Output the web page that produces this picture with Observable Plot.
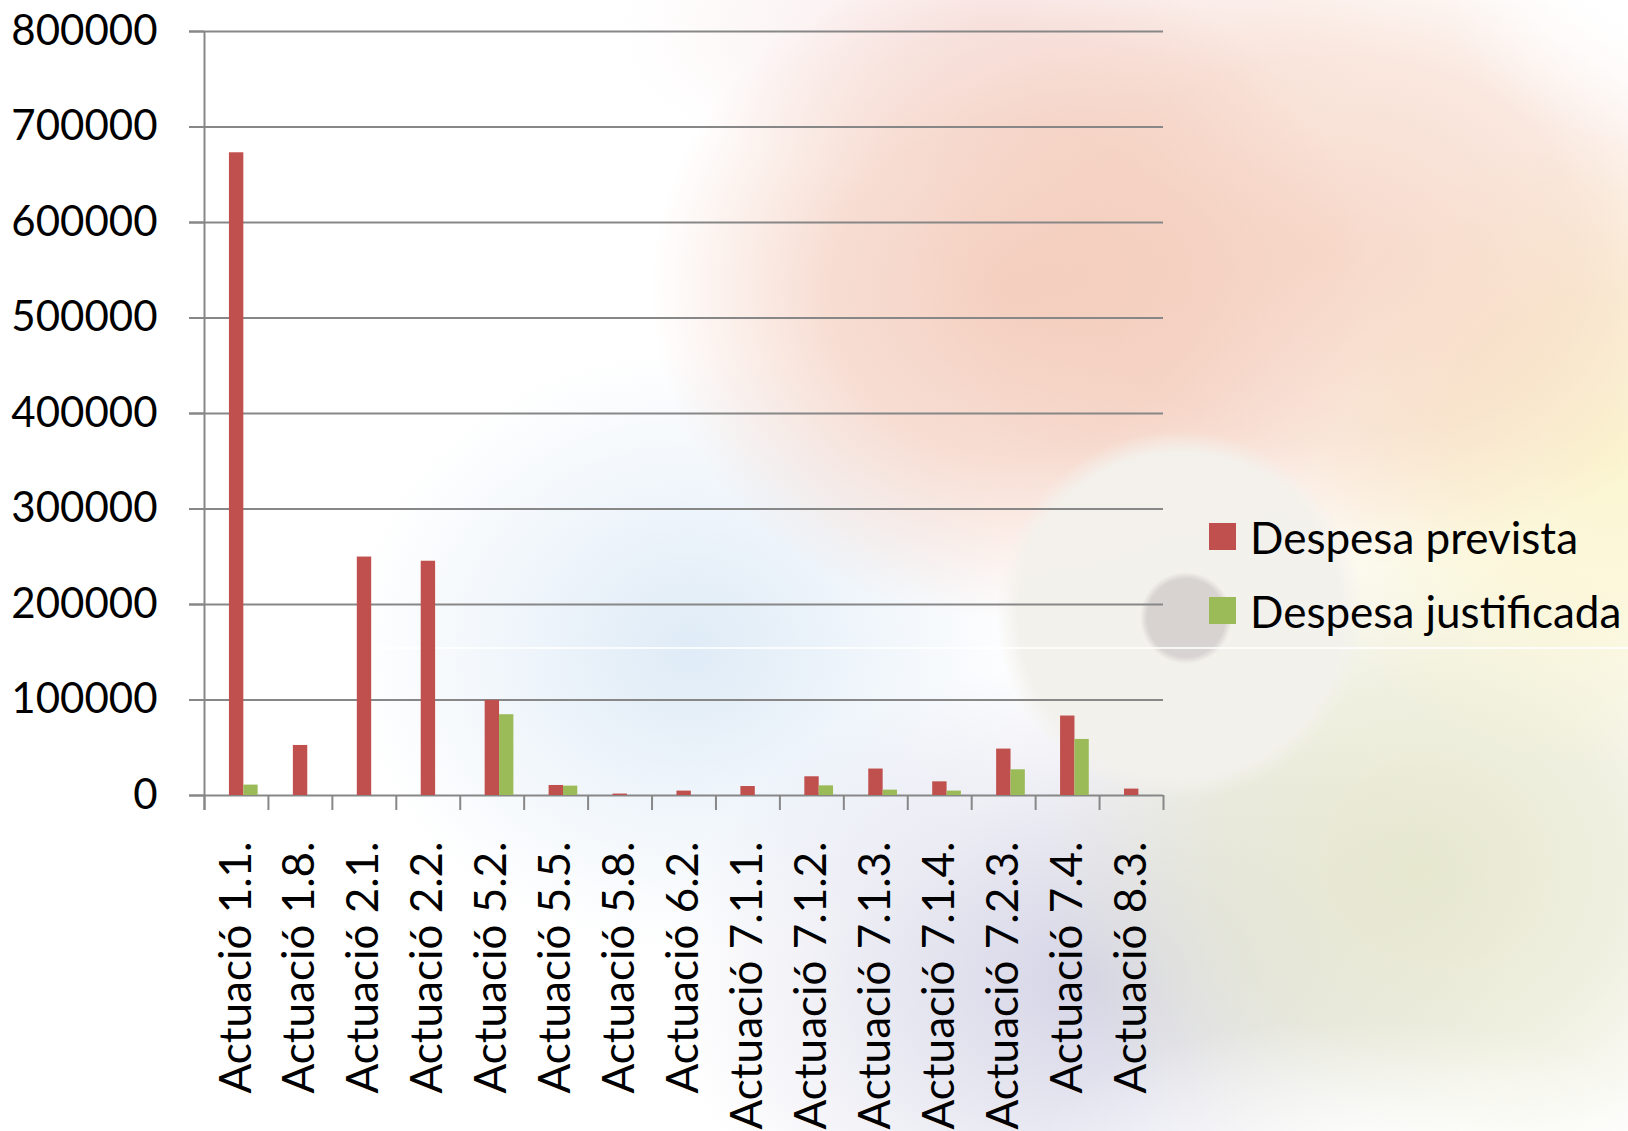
<!DOCTYPE html>
<html>
<head>
<meta charset="utf-8">
<script src="https://cdn.jsdelivr.net/npm/d3@7"></script>
<script src="https://cdn.jsdelivr.net/npm/@observablehq/plot@0.6"></script>
<style>
html, body { margin: 0; padding: 0; background: #fff; }
#wrap { position: relative; width: 1628px; height: 1131px; overflow: hidden; background: #fff; }
#bg {
  position: absolute; left: 0; top: 0; width: 1628px; height: 1131px;
  background:
    linear-gradient(to bottom, rgba(255,255,255,0) 0, rgba(255,255,255,0) 647px, rgba(255,255,255,0.8) 647px, rgba(255,255,255,0.8) 649px, rgba(255,255,255,0) 649px),
    radial-gradient(circle 46px at 1186px 618px, rgba(214,209,207,0.92) 0, rgba(214,209,207,0.92) 39px, rgba(214,209,207,0) 46px),
    radial-gradient(circle 184px at 1180px 615px, rgba(243,241,236,0.98) 0, rgba(243,241,236,0.98) 162px, rgba(243,241,236,0) 184px),
    radial-gradient(ellipse 320px 120px at 1360px 1140px, rgba(255,255,255,0.75) 0, rgba(255,255,255,0) 100%),
    radial-gradient(ellipse 180px 140px at 1628px 0px, rgba(255,255,255,0.9) 0, rgba(255,255,255,0) 100%),
    radial-gradient(ellipse 360px 330px at 1010px 290px, rgba(242,198,180,0.8) 0, rgba(242,198,180,0.6) 50%, rgba(242,198,180,0) 100%),
    radial-gradient(ellipse 420px 320px at 1330px 250px, rgba(245,208,190,0.8) 0, rgba(245,208,190,0.5) 60%, rgba(245,208,190,0) 100%),
    radial-gradient(ellipse 380px 160px at 1000px 30px, rgba(246,222,222,0.7) 0, rgba(246,222,222,0) 100%),
    radial-gradient(ellipse 340px 320px at 1610px 450px, rgba(251,245,208,1) 0, rgba(251,245,208,0.7) 50%, rgba(251,245,208,0) 100%),
    radial-gradient(ellipse 380px 340px at 1420px 870px, rgba(229,230,204,0.95) 0, rgba(229,230,204,0.6) 55%, rgba(229,230,204,0) 100%),
    radial-gradient(ellipse 420px 320px at 1090px 980px, rgba(208,208,228,0.92) 0, rgba(208,208,228,0) 100%),
    radial-gradient(ellipse 340px 300px at 690px 650px, rgba(221,234,246,0.95) 0, rgba(221,234,246,0) 100%),
    #ffffff;
}
#chart { position: absolute; left: 0; top: 0; }
#legend { position: absolute; left: 1209px; top: 515px; font-family: Lato, "Liberation Sans", sans-serif; font-size: 44px; color: #000; }
.lg-row { display: flex; align-items: center; height: 43px; margin-bottom: 31px; white-space: nowrap; }
.lg-sw { width: 27px; height: 27px; margin-right: 14px; flex: none; }
</style>
</head>
<body>
<div id="wrap">
  <div id="bg"></div>
  <div id="chart"></div>
  <div id="legend"></div>
</div>
<script>
const categories = ["Actuació 1.1.", "Actuació 1.8.", "Actuació 2.1.", "Actuació 2.2.", "Actuació 5.2.", "Actuació 5.5.", "Actuació 5.8.", "Actuació 6.2.", "Actuació 7.1.1.", "Actuació 7.1.2.", "Actuació 7.1.3.", "Actuació 7.1.4.", "Actuació 7.2.3.", "Actuació 7.4.", "Actuació 8.3."];
const despesaPrevista = [673000, 52400, 249700, 245300, 99600, 10500, 1500, 4600, 9400, 19600, 27700, 14300, 48600, 83200, 6700];
const despesaJustificada = [10900, 0, 0, 0, 84600, 9800, 0, 0, 0, 10100, 5600, 4600, 26900, 58700, 0];
const seriesNames = ["Despesa prevista", "Despesa justificada"];
const seriesColors = ["#C0504D", "#9BBB59"];
const yTicks = [0, 100000, 200000, 300000, 400000, 500000, 600000, 700000, 800000];

const W = 1628, H = 1131;
const mL = 204, mR = 465, mT = 31, mB = 336;
const step = (W - mL - mR) / categories.length;

const rowsPrev = categories.map((c, i) => ({cat: c, value: despesaPrevista[i]})).filter(d => d.value > 0);
const rowsJust = categories.map((c, i) => ({cat: c, value: despesaJustificada[i]})).filter(d => d.value > 0);

const gray = "#878787";
const chart = Plot.plot({
  width: W, height: H,
  marginLeft: mL, marginRight: mR, marginTop: mT, marginBottom: mB,
  style: {fontFamily: "Lato, 'Liberation Sans', sans-serif", fontSize: "42px", background: "transparent", color: "#000"},
  x: {type: "band", domain: categories, padding: 0, round: false, axis: null},
  y: {domain: [0, 800000], axis: null},
  marks: [
    Plot.ruleY(yTicks, {stroke: gray, strokeWidth: 2, insetLeft: -15}),
    Plot.axisY({ticks: yTicks, tickSize: 15, tickPadding: 32, tickFormat: d3.format("d"), stroke: gray, strokeWidth: 2, fill: "#000", fontSize: 42, label: null}),
    Plot.ruleX([categories[0]], {dx: -step / 2, y1: 800000, y2: 0, insetBottom: -15, stroke: gray, strokeWidth: 2}),
    Plot.ruleX(categories, {x: d => d, y1: 0, y2: 0, insetBottom: -15, dx: -step / 2, stroke: gray, strokeWidth: 2}),
    Plot.ruleX([categories[categories.length - 1]], {x: d => d, y1: 0, y2: 0, insetBottom: -15, dx: step / 2, stroke: gray, strokeWidth: 2}),
    Plot.barY(rowsPrev, {x: "cat", y: "value", fill: seriesColors[0], insetLeft: step * 0.39, insetRight: step * 0.385}),
    Plot.barY(rowsJust, {x: "cat", y: "value", fill: seriesColors[1], insetLeft: step * 0.615, insetRight: step * 0.161}),
    Plot.axisX({tickSize: 0, tickPadding: 46, tickRotate: -90, fontSize: 44, fill: "#000", label: null})
  ]
});
document.getElementById("chart").appendChild(chart);

const legend = document.getElementById("legend");
seriesNames.forEach((name, i) => {
  const row = document.createElement("div");
  row.className = "lg-row";
  const sw = document.createElement("span");
  sw.className = "lg-sw";
  sw.style.background = seriesColors[i];
  const tx = document.createElement("span");
  tx.textContent = name;
  row.appendChild(sw);
  row.appendChild(tx);
  legend.appendChild(row);
});
</script>
</body>
</html>
